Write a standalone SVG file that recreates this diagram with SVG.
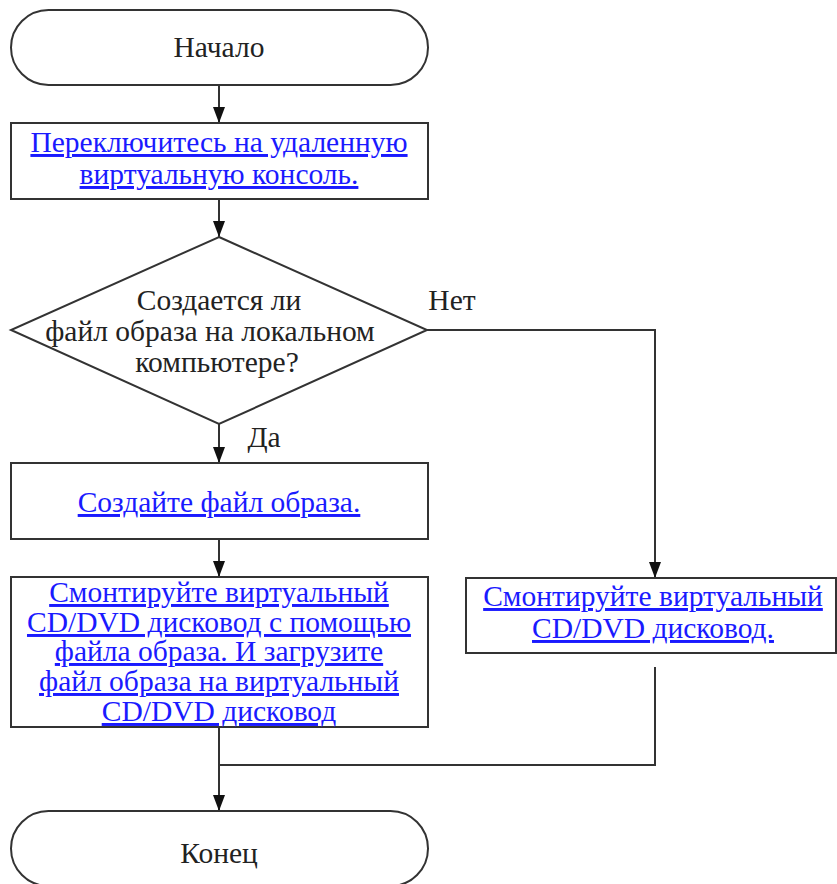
<svg xmlns="http://www.w3.org/2000/svg" width="837" height="884" viewBox="0 0 837 884">
<style>
.shape{fill:#fff;stroke:#333;stroke-width:2}
.t{font-family:"Liberation Serif","Times New Roman",serif;font-size:29.5px;fill:#222;text-anchor:middle}
.l{fill:#1a1aff;text-decoration:underline}
.c{fill:none;stroke:#333;stroke-width:2}
</style>
<defs>
<marker id="ah" markerWidth="16" markerHeight="12" refX="16" refY="6" orient="auto" markerUnits="userSpaceOnUse" viewBox="0 0 16 12">
<path d="M0,0 L16,6 L0,12 z" fill="#111"/>
</marker>
</defs>
<rect width="837" height="884" fill="#fff"/>
<g id="connectors">
<line class="c" x1="219" y1="85" x2="219" y2="123" marker-end="url(#ah)"/>
<line class="c" x1="219" y1="199" x2="219" y2="237" marker-end="url(#ah)"/>
<line class="c" x1="219" y1="424" x2="219" y2="463" marker-end="url(#ah)"/>
<polyline class="c" points="427,330 655,330 655,578" marker-end="url(#ah)"/>
<line class="c" x1="219" y1="539" x2="219" y2="577" marker-end="url(#ah)"/>
<line class="c" x1="219" y1="727" x2="219" y2="811" marker-end="url(#ah)"/>
<polyline class="c" points="655,667 655,765 219,765"/>
<text class="t" x="264" y="447">Да</text>
<text class="t" x="452" y="310">Нет</text>
</g>
<g id="start">
<rect class="shape" x="11" y="10" width="417" height="75" rx="37.5"/>
<text class="t" x="219" y="57">Начало</text>
</g>
<g id="switch">
<rect class="shape" x="11" y="123" width="417" height="76"/>
<text class="t l" x="219" y="152">Переключитесь на удаленную</text>
<text class="t l" x="219" y="184">виртуальную консоль.</text>
</g>
<g id="decision">
<polygon class="shape" points="219,237 427,330 219,424 11,330"/>
<text class="t" x="219" y="310">Создается ли</text>
<text class="t" x="210" y="341">файл образа на локальном</text>
<text class="t" x="217" y="372">компьютере?</text>
</g>
<g id="create">
<rect class="shape" x="11" y="463" width="417" height="76"/>
<text class="t l" x="219" y="512">Создайте файл образа.</text>
</g>
<g id="mount-load">
<rect class="shape" x="11" y="577" width="417" height="150"/>
<text class="t l" x="219" y="602">Смонтируйте виртуальный</text>
<text class="t l" x="219" y="632">CD/DVD дисковод с помощью</text>
<text class="t l" x="219" y="661">файла образа. И загрузите</text>
<text class="t l" x="219" y="691">файл образа на виртуальный</text>
<text class="t l" x="219" y="721">CD/DVD дисковод</text>
</g>
<g id="mount">
<rect class="shape" x="466" y="578" width="370" height="75"/>
<text class="t l" x="653" y="606">Смонтируйте виртуальный</text>
<text class="t l" x="653" y="638">CD/DVD дисковод.</text>
</g>
<g id="end">
<rect class="shape" x="11" y="811" width="417" height="75" rx="37.5"/>
<text class="t" x="219" y="863">Конец</text>
</g>
</svg>
